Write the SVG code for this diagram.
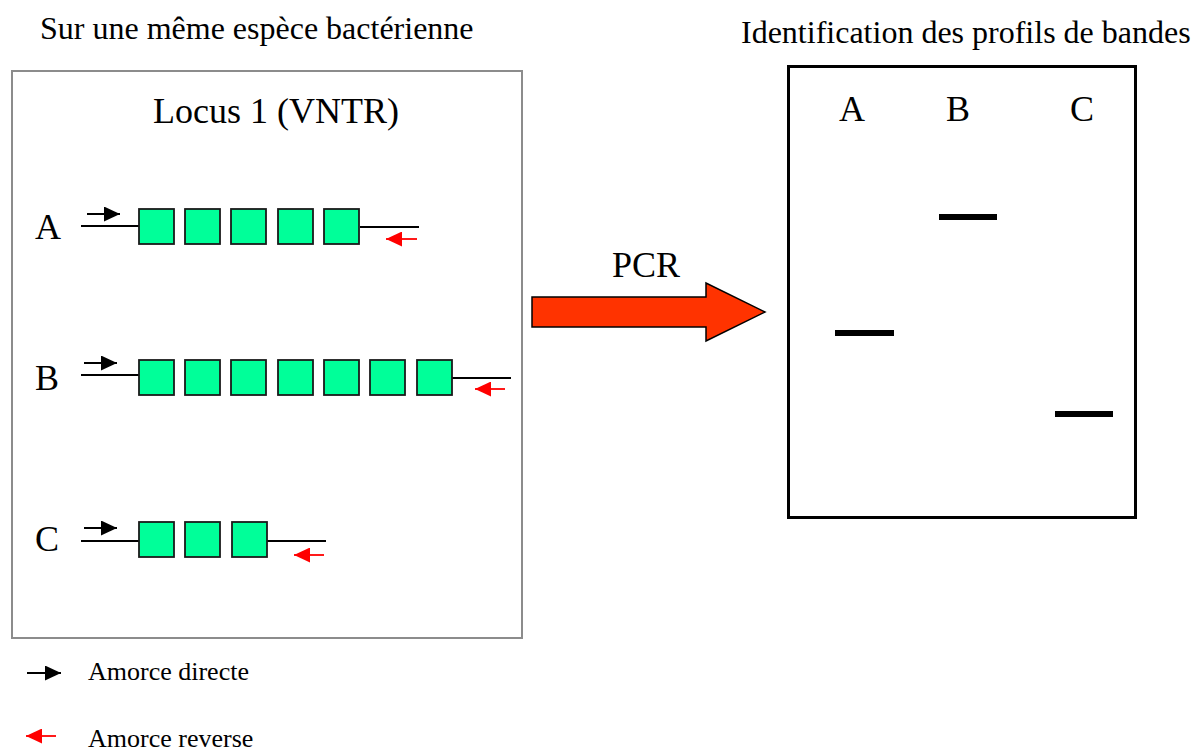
<svg xmlns="http://www.w3.org/2000/svg" width="1203" height="752" viewBox="0 0 1203 752">
<style>
text{font-family:"Liberation Serif","Times New Roman",serif;fill:#000}
.t32{font-size:32px}
.t36{font-size:36px}
.t26{font-size:26px}
.rep{fill:#00FF99;stroke:#1a1a1a;stroke-width:1.8}
.dna{stroke:#000;stroke-width:2.2;fill:none}
.fwd{stroke:#000;stroke-width:1.8;fill:none;marker-end:url(#hb)}
.rev{stroke:#ff0000;stroke-width:1.8;fill:none;marker-end:url(#hr)}
.band{fill:#000}
</style>
<defs>
<marker id="hb" markerUnits="userSpaceOnUse" markerWidth="16" markerHeight="15" refX="16" refY="7.5" orient="auto" viewBox="0 0 16 15"><path d="M0,0 L16,7.5 L0,15 z" fill="#000"/></marker>
<marker id="hr" markerUnits="userSpaceOnUse" markerWidth="16" markerHeight="15" refX="16" refY="7.5" orient="auto" viewBox="0 0 16 15"><path d="M0,0 L16,7.5 L0,15 z" fill="#ff0000"/></marker>
</defs>
<rect width="1203" height="752" fill="#fff"/>
<text class="t32" x="40" y="39">Sur une même espèce bactérienne</text>
<text class="t32" x="741" y="43">Identification des profils de bandes</text>

<g id="locus-panel">
<rect x="12" y="71" width="510" height="567" fill="none" stroke="#8c8c8c" stroke-width="2"/>
<text class="t36" x="153" y="123">Locus 1 (VNTR)</text>
</g>

<g id="row-A">
<text class="t36" x="35" y="239">A</text>
<line class="dna" x1="81" y1="226" x2="139" y2="226"/>
<line class="dna" x1="360" y1="227" x2="419" y2="227"/>
<rect class="rep" x="139" y="209" width="35" height="35"/>
<rect class="rep" x="185" y="209" width="35" height="35"/>
<rect class="rep" x="231" y="209" width="35" height="35"/>
<rect class="rep" x="278" y="209" width="35" height="35"/>
<rect class="rep" x="324" y="209" width="35" height="35"/>
<line class="fwd" x1="87" y1="214" x2="120" y2="214"/>
<line class="rev" x1="417" y1="239" x2="386" y2="239"/>
</g>

<g id="row-B">
<text class="t36" x="35" y="390">B</text>
<line class="dna" x1="81" y1="375" x2="139" y2="375"/>
<line class="dna" x1="452" y1="378" x2="511" y2="378"/>
<rect class="rep" x="139" y="360" width="35" height="35"/>
<rect class="rep" x="185" y="360" width="35" height="35"/>
<rect class="rep" x="231" y="360" width="35" height="35"/>
<rect class="rep" x="278" y="360" width="35" height="35"/>
<rect class="rep" x="324" y="360" width="35" height="35"/>
<rect class="rep" x="370" y="360" width="35" height="35"/>
<rect class="rep" x="417" y="360" width="35" height="35"/>
<line class="fwd" x1="84" y1="363" x2="117" y2="363"/>
<line class="rev" x1="505" y1="389" x2="475" y2="389"/>
</g>

<g id="row-C">
<text class="t36" x="35" y="551">C</text>
<line class="dna" x1="81" y1="541" x2="139" y2="541"/>
<line class="dna" x1="267" y1="541" x2="326" y2="541"/>
<rect class="rep" x="139" y="522" width="35" height="35"/>
<rect class="rep" x="185" y="522" width="35" height="35"/>
<rect class="rep" x="232" y="522" width="35" height="35"/>
<line class="fwd" x1="84" y1="528" x2="117" y2="528"/>
<line class="rev" x1="324" y1="555" x2="294" y2="555"/>
</g>

<g id="connectors">
<polygon points="532,297 706,297 706,283 765,312 706,341 706,327 532,327" fill="#FF3300" stroke="#000" stroke-width="1.5"/>
<text class="t36" x="612" y="277">PCR</text>
</g>

<g id="gel">
<rect x="788.5" y="66.5" width="347" height="451" fill="none" stroke="#000" stroke-width="3"/>
<text class="t36" x="852" y="121" text-anchor="middle">A</text>
<text class="t36" x="958" y="121" text-anchor="middle">B</text>
<text class="t36" x="1082" y="121" text-anchor="middle">C</text>
<rect class="band" x="835" y="330" width="59" height="6"/>
<rect class="band" x="939" y="214" width="58" height="6"/>
<rect class="band" x="1055" y="411" width="58" height="6"/>
</g>

<g id="legend">
<line class="fwd" x1="27" y1="673" x2="61" y2="673"/>
<text class="t26" x="88" y="680">Amorce directe</text>
<line class="rev" x1="56" y1="736" x2="26" y2="736"/>
<text class="t26" x="88" y="747">Amorce reverse</text>
</g>
</svg>
